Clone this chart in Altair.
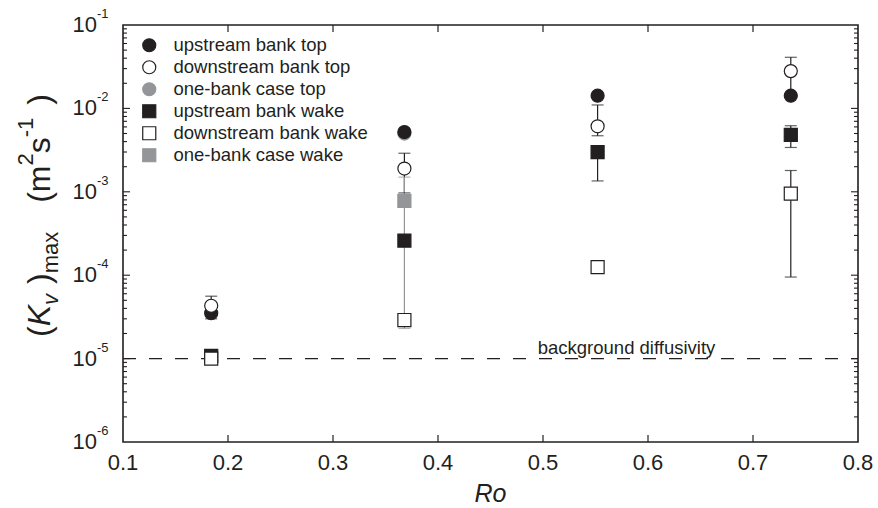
import altair as alt
import pandas as pd

# ---------------- data ----------------
ro = [0.184, 0.368, 0.552, 0.736]
series_names = ["upstream bank top", "downstream bank top", "one-bank case top",
                "upstream bank wake", "downstream bank wake", "one-bank case wake"]
upstream_top = [3.5e-5, 5.2e-3, 1.42e-2, 1.42e-2]
downstream_top = [4.3e-5, 1.9e-3, 6.1e-3, 2.8e-2]
onebank_top = [None, 5.0e-3, None, None]
upstream_wake = [1.08e-5, 2.6e-4, 3.0e-3, 4.8e-3]
downstream_wake = [1.0e-5, 2.9e-5, 1.25e-4, 9.5e-4]
onebank_wake = [None, 7.8e-4, None, None]

err_series = ["downstream bank top", "upstream bank top", "downstream bank top",
              "one-bank case wake", "downstream bank wake", "downstream bank top",
              "upstream bank wake", "downstream bank top", "upstream bank wake",
              "downstream bank wake"]
err_ro = [0.184, 0.184, 0.368, 0.368, 0.368, 0.552, 0.552, 0.736, 0.736, 0.736]
err_lo = [3.6e-5, 3.0e-5, 9.7e-4, 2.3e-5, 2.6e-5, 4.7e-3, 1.35e-3, 1.42e-2, 3.4e-3, 9.5e-5]
err_hi = [5.6e-5, 3.5e-5, 2.9e-3, 1.5e-3, 2.9e-5, 1.1e-2, 3.0e-3, 4.1e-2, 6.2e-3, 1.8e-3]

background = 1e-5
background_label = "background diffusivity"

x_ticks = [0.1, 0.2, 0.3, 0.4, 0.5, 0.6, 0.7, 0.8]
x_labels = ["0.1", "0.2", "0.3", "0.4", "0.5", "0.6", "0.7", "0.8"]
y_decades = [1e-6, 1e-5, 1e-4, 1e-3, 1e-2, 1e-1]
y_exponents = ["-6", "-5", "-4", "-3", "-2", "-1"]

# ---------------- style ----------------
BLACK = "#231f20"
GRAY = "#939598"
FONT = "Liberation Sans"
W, H = 735, 417

fills = [BLACK, "white", GRAY, BLACK, "white", GRAY]
strokes = [BLACK, BLACK, GRAY, BLACK, BLACK, GRAY]
shapes = ["circle", "circle", "circle", "square", "square", "square"]

# ---------------- tables ----------------
values_by_series = {
    "upstream bank top": upstream_top,
    "downstream bank top": downstream_top,
    "one-bank case top": onebank_top,
    "upstream bank wake": upstream_wake,
    "downstream bank wake": downstream_wake,
    "one-bank case wake": onebank_wake,
}
draw_order = ["one-bank case top", "upstream bank top", "upstream bank wake",
              "downstream bank top", "downstream bank wake", "one-bank case wake"]
rows = []
for s in draw_order:
    for r, v in zip(ro, values_by_series[s]):
        if v is not None:
            rows.append({"Ro": r, "K": v, "series": s, "draw": len(rows)})
pts = pd.DataFrame(rows)

err = pd.DataFrame({"Ro": err_ro, "lo": err_lo, "hi": err_hi, "series": err_series})
err["ecolor"] = [GRAY if "one-bank" in s else BLACK for s in err_series]
caps = pd.concat([
    err[["Ro", "series", "ecolor"]].assign(K=err["lo"]),
    err[["Ro", "series", "ecolor"]].assign(K=err["hi"]),
])

xscale = alt.Scale(domain=[0.1, 0.8], nice=False, zero=False)
yscale = alt.Scale(type="log", domain=[1e-6, 1e-1], nice=False)

X = lambda f: alt.X(f, type="quantitative", scale=xscale, axis=None)
Y = lambda f: alt.Y(f, type="quantitative", scale=yscale, axis=None)

one = pd.DataFrame({"a": [0]})

# x tick labels and title
xlab_df = pd.DataFrame({"Ro": x_ticks, "label": x_labels})
xlab = alt.Chart(xlab_df).mark_text(align="center", baseline="middle", fontSize=22,
                                    font=FONT, color=BLACK).encode(
    x=X("Ro"), y=alt.value(H + 21), text="label:N")
xtitle = alt.Chart(one).mark_text(align="center", baseline="middle", fontSize=25,
                                  font=FONT, fontStyle="italic", color=BLACK).encode(
    x=alt.value(W / 2), y=alt.value(H + 52), text=alt.value("Ro"))

# inward ticks
inner_x = pd.DataFrame({"Ro": x_ticks[1:-1]})
xt_bottom = alt.Chart(inner_x).mark_rule(color=BLACK, strokeWidth=1.2).encode(
    x=X("Ro"), y=alt.value(H), y2=alt.value(H - 7))
xt_top = alt.Chart(inner_x).mark_rule(color=BLACK, strokeWidth=1.2).encode(
    x=X("Ro"), y=alt.value(0), y2=alt.value(7))

minor = pd.DataFrame({"K": [k * d for d in y_decades[:-1] for k in range(2, 10)]})
major = pd.DataFrame({"K": y_decades[1:-1]})
yt = []
for df, ln in [(minor, 4), (major, 7)]:
    yt.append(alt.Chart(df).mark_rule(color=BLACK, strokeWidth=1.1).encode(
        y=Y("K"), x=alt.value(0), x2=alt.value(ln)))
    yt.append(alt.Chart(df).mark_rule(color=BLACK, strokeWidth=1.1).encode(
        y=Y("K"), x=alt.value(W), x2=alt.value(W - ln)))

# y tick labels (10 with superscript exponent)
ylab_df = pd.DataFrame({"K": y_decades, "exp": y_exponents, "base": ["10"] * len(y_decades)})
ylab = alt.Chart(ylab_df).mark_text(align="right", baseline="middle", fontSize=22,
                                    font=FONT, color=BLACK).encode(
    y=Y("K"), x=alt.value(-26), text="base:N")
yexp = alt.Chart(ylab_df).mark_text(align="left", baseline="middle", fontSize=13,
                                    font=FONT, color=BLACK, dy=-11).encode(
    y=Y("K"), x=alt.value(-26), text="exp:N")

# background line and label
bg_df = pd.DataFrame({"K": [background], "label": [background_label], "Ro": [0.495]})
bg_line = alt.Chart(bg_df).mark_rule(color=BLACK, strokeWidth=1.2, strokeDash=[13, 13]).encode(
    y=Y("K"), x=alt.value(0), x2=alt.value(W))
bg_text = alt.Chart(bg_df).mark_text(align="left", baseline="alphabetic", fontSize=18.5,
                                     font=FONT, color=BLACK, dy=-5).encode(
    y=Y("K"), x=X("Ro"), text="label:N")

# error bars
ebar = alt.Chart(err).mark_rule(strokeWidth=1.2).encode(
    x=X("Ro"), y=Y("lo"), y2="hi", color=alt.Color("ecolor:N", scale=None))
ecap = alt.Chart(caps).mark_tick(orient="horizontal", size=12, thickness=1.2).encode(
    x=X("Ro"), y=Y("K"), color=alt.Color("ecolor:N", scale=None))

# points
leg = alt.Legend(orient="none", legendX=17, legendY=11, title=None, labelFontSize=18.5,
                 labelFont=FONT, labelColor=BLACK, symbolStrokeWidth=1.2, symbolSize=170,
                 rowPadding=3, labelOffset=15, padding=0, labelLimit=400)
points = alt.Chart(pts).mark_point(filled=True, opacity=1, size=170, strokeWidth=1.2).encode(
    x=X("Ro"), y=Y("K"),
    fill=alt.Fill("series:N", scale=alt.Scale(domain=series_names, range=fills), legend=leg),
    stroke=alt.Stroke("series:N", scale=alt.Scale(domain=series_names, range=strokes), legend=leg),
    shape=alt.Shape("series:N", scale=alt.Scale(domain=series_names, range=shapes), legend=leg),
    order=alt.Order("draw:Q"),
)

# y-axis title composed of pieces (rotated); (text, size, baseline shift, style, gap before)
F, f = 32, 22
widths = {"(": .333, ")": .333, "K": .667, "v": .5, "m": .833, "a": .556, "x": .5,
          "s": .5, "2": .556, "-": .333, "1": .556}
pieces = [("(", F, 0, "normal", 0), ("K", F, 0, "italic", 0), ("v", f, 8, "italic", 0),
          (")", F, 0, "normal", 10), ("max", f, 8, "normal", 0), ("(", F, 0, "normal", 29),
          ("m", F, 0, "normal", 0), ("2", f, -17, "normal", 0), ("s", F, 0, "normal", 0),
          ("-1", f, -17, "normal", 0), (")", F, 0, "normal", 13)]
title_layers = []
ypos = 312
xbase = -73
for txt, size, shift, style, gap in pieces:
    ypos -= gap
    title_layers.append(alt.Chart(one).mark_text(
        angle=270, align="left", baseline="alphabetic", fontSize=size, font=FONT,
        fontStyle=style, color=BLACK).encode(
        x=alt.value(xbase + shift), y=alt.value(ypos), text=alt.value(txt)))
    ypos -= sum(widths[c] for c in txt) * size

chart = alt.layer(
    bg_line, bg_text, xt_bottom, xt_top, *yt, xlab, xtitle, ylab, yexp,
    ebar, ecap, points, *title_layers
).properties(
    width=W, height=H,
    autosize=alt.AutoSizeParams(type="none"),
    padding={"left": 123, "top": 25, "right": 20, "bottom": 66},
).configure(background="white").configure_view(stroke=BLACK, strokeWidth=1.6)

chart.save("out.html", embed_options={"renderer": "svg", "actions": False})
